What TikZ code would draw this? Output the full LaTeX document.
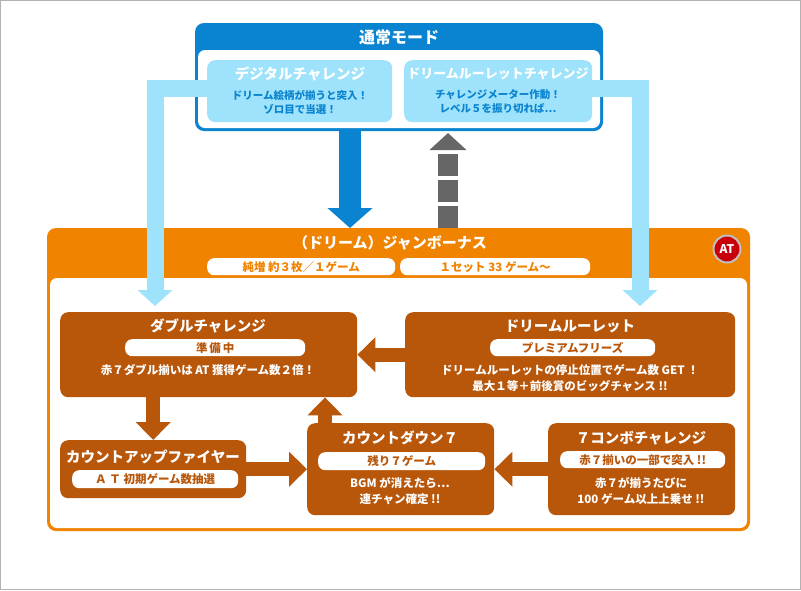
\documentclass[tikz,border=0pt]{standalone}
\usepackage{fontspec}
\setmainfont{Noto Sans CJK JP}
\usepackage{tikz}
\usetikzlibrary{arrows.meta,positioning}
\definecolor{modeblue}{HTML}{0A84D0}
\definecolor{skyblue}{HTML}{9EE3FB}
\definecolor{atorange}{HTML}{F08300}
\definecolor{boxbrown}{HTML}{B8560A}
\definecolor{dashgray}{HTML}{666666}
\definecolor{atred}{HTML}{C8000A}

\begin{document}
\begin{tikzpicture}[x=1pt,y=-1pt,
    box/.style={shape=rectangle, rounded corners=8pt, fill=boxbrown, inner sep=0pt, anchor=north west},
    pill/.style={shape=rectangle, rounded corners=7pt, fill=white, inner sep=0pt, anchor=north west,
      text=boxbrown, font=\bfseries\fontsize{11.5}{12}\selectfont},
    title/.style={text=white, font=\bfseries\fontsize{14.5}{15}\selectfont},
    body/.style={text=white, font=\bfseries\fontsize{11.5}{16}\selectfont, align=center},
    fat/.style={line width=14pt, draw=boxbrown, -{Triangle[width=34pt,length=18pt]}},
    sky/.style={line width=17pt, draw=skyblue, -{Triangle[width=34pt,length=16pt]}}]
    \useasboundingbox (0,0) rectangle (801,590);
    \draw[gray!60] (0.5,0.5) rectangle (800.5,589.5);

    % normal mode
    \fill[modeblue, rounded corners=9pt] (195,23) rectangle (603,131);
    \fill[white, rounded corners=7pt] (198,50) rectangle (600,128);
    \node[title, font=\bfseries\fontsize{16}{17}\selectfont] (mode) at (399,37) {通常モード};
    \node[box, fill=skyblue, minimum width=185pt, minimum height=62pt] (dig) at (207,60) {};
    \node[box, fill=skyblue, minimum width=188pt, minimum height=62pt] (rou) at (404,60) {};
    \node[title] (digT) at (300,74) {デジタルチャレンジ};
    \node[text=modeblue, font=\bfseries\fontsize{10.5}{14}\selectfont, align=center] at (300,102) {ドリーム絵柄が揃うと突入！\\ゾロ目で当選！};
    \node[title, font=\bfseries\fontsize{13}{14}\selectfont] (rouT) at (498,74) {ドリームルーレットチャレンジ};
    \node[text=modeblue, font=\bfseries\fontsize{10.5}{14}\selectfont, align=center] at (498,102) {チャレンジメーター作動！\\レベル５を振り切れば…};

    % AT frame
    \fill[atorange, rounded corners=9pt] (47,228) rectangle (750,531);
    \fill[white, rounded corners=7pt] (50,278) rectangle (747,528);
    \node[title, font=\bfseries\fontsize{15}{16}\selectfont] (jb) at (390,243) {（ドリーム）ジャンボーナス};
    \node[pill, text=atorange, minimum width=188pt, minimum height=17pt] at (207,258) {純増 約３枚／１ゲーム};
    \node[pill, text=atorange, minimum width=190pt, minimum height=17pt] at (400,258) {１セット 33 ゲーム～};
    \node[circle, fill=atred, draw=gray!50, line width=2pt, minimum size=27pt, inner sep=0pt,
      text=white, font=\bfseries\fontsize{12}{12}\selectfont] (at) at (727,249) {AT};

    % boxes
    \node[box, minimum width=297pt, minimum height=85pt] (dbl) at (60,312) {};
    \node[title] at (208,326) {ダブルチャレンジ};
    \node[pill, minimum width=180pt, minimum height=17pt] at (125,339) {準\,備\,中};
    \node[body] at (208,370) {赤７ダブル揃いは AT 獲得ゲーム数２倍！};

    \node[box, minimum width=330pt, minimum height=85pt] (drm) at (405,312) {};
    \node[title] at (570,326) {ドリームルーレット};
    \node[pill, minimum width=165pt, minimum height=17pt] at (490,339) {プレミアムフリーズ};
    \node[body] at (570,378) {ドリームルーレットの停止位置でゲーム数 GET ！\\最大１等＋前後賞のビッグチャンス !!};

    \node[box, minimum width=186pt, minimum height=58pt] (cup) at (60,440) {};
    \node[title] at (153,457) {カウントアップファイヤー};
    \node[pill, minimum width=166pt, minimum height=18pt] at (72,470) {Ａ Ｔ 初期ゲーム数抽選};

    \node[box, minimum width=187pt, minimum height=92pt] (cdn) at (307,423) {};
    \node[title] at (400,438) {カウントダウン７};
    \node[pill, minimum width=167pt, minimum height=18pt] at (318,452) {残り７ゲーム};
    \node[body] at (400,491) {BGM が消えたら…\\連チャン確定 !!};

    \node[box, minimum width=187pt, minimum height=92pt] (cmb) at (548,423) {};
    \node[title] at (641,438) {７コンボチャレンジ};
    \node[pill, minimum width=165pt, minimum height=17pt] at (560,451) {赤７揃いの一部で突入 !!};
    \node[body] at (641,491) {赤７が揃うたびに\\100 ゲーム以上上乗せ !!};

    % connectors
    \draw[fat] (drm.west) -- (dbl.east);
    \draw[fat] (dbl.south -| cup.north) -- (cup.north);
    \draw[fat] (cup.east) -- (cup.east -| cdn.west);
    \draw[fat] (cmb.west) -- (cmb.west -| cdn.east);
    \draw[fat] (cdn.north -| 325,0) -- (dbl.south -| 325,0);

    \coordinate (upL) at (350,130);
    \coordinate (dnL) at (350,228);
    \draw[line width=22pt, draw=modeblue, -{Triangle[width=44pt,length=20pt]}] (upL) -- (dnL);
    \coordinate (upR) at (448,228);
    \coordinate (dnR) at (448,133);
    \draw[line width=20pt, draw=dashgray, dash pattern=on 22pt off 4pt, -{Triangle[width=36pt,length=17pt]}] (upR) -- (dnR);

    \coordinate (skyL) at (155,306);
    \coordinate (skyR) at (640,306);
    \draw[sky] (dig.west |- 0,88) -| (skyL);
    \draw[sky] (rou.east |- 0,88) -| (skyR);
\end{tikzpicture}
\end{document}
